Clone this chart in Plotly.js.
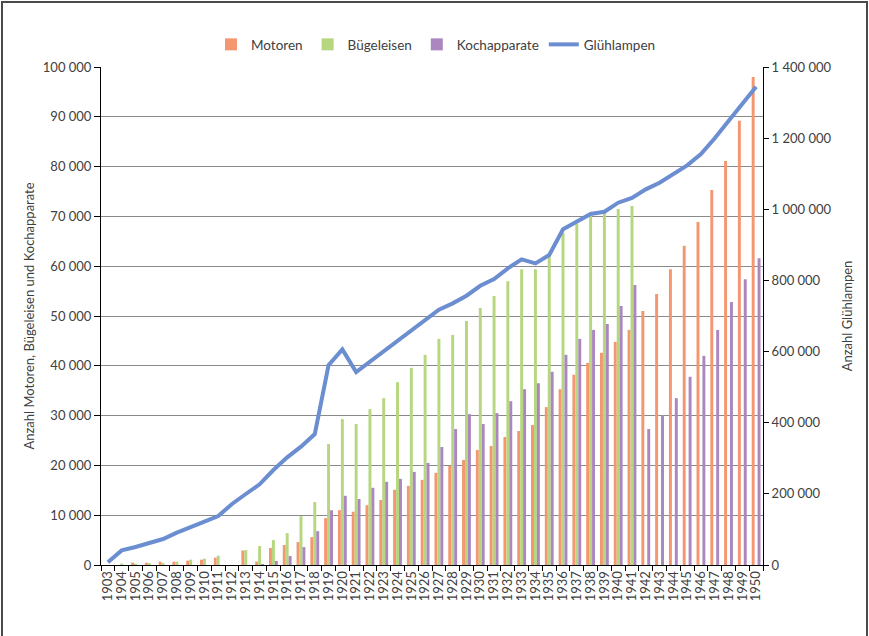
<!DOCTYPE html>
<html>
<head>
<meta charset="utf-8">
<script src="https://cdn.plot.ly/plotly-3.0.1.min.js"></script>
<style>
  html, body { margin: 0; padding: 0; background: #fff; overflow: hidden; }
  #frame { position: absolute; left: 1px; top: 1px; width: 863px; height: 760px; border: 2px solid #4a4a4a; }
  #chart { position: absolute; left: 0; top: 0; width: 869px; height: 636px; }
</style>
</head>
<body>
<div id="frame"></div>
<div id="chart"></div>
<script>
const years = ["1903","1904","1905","1906","1907","1908","1909","1910","1911","1912",
  "1913","1914","1915","1916","1917","1918","1919","1920","1921","1922",
  "1923","1924","1925","1926","1927","1928","1929","1930","1931","1932",
  "1933","1934","1935","1936","1937","1938","1939","1940","1941","1942",
  "1943","1944","1945","1946","1947","1948","1949","1950"];

const motoren = [null, null, 470, 470, 670, 670, 870, 1070, 1470, null,
  2900, 670, 3400, 4000, 4600, 5600, 9400, 11000, 10700, 12000,
  13050, 15100, 15900, 17100, 18500, 19900, 21100, 23100, 23900, 25700,
  26900, 28100, 31700, 35300, 38200, 40600, 42600, 44800, 47200, 51000,
  54400, 59400, 64100, 68900, 75300, 81100, 89200, 98000];

const buegeleisen = [null, 270, 270, 400, 400, 670, 1070, 1270, 1870, null,
  3000, 3800, 5000, 6400, 9800, 12650, 24300, 29300, 28300, 31300,
  33500, 36700, 39600, 42200, 45400, 46200, 49000, 51600, 54000, 57000,
  59400, 59400, 62200, 66700, 68500, 70100, 70700, 71500, 72100, null,
  null, null, null, null, null, null, null, null];

const kochapparate = [null, null, null, null, null, null, null, null, null, null,
  null, 200, 800, 1800, 3600, 6800, 11000, 13900, 13250, 15500,
  16700, 17300, 18700, 20500, 23700, 27300, 30300, 28300, 30500, 32900,
  35300, 36500, 38800, 42200, 45400, 47200, 48400, 52000, 56200, 27300,
  30100, 33500, 37800, 42000, 47200, 52800, 57400, 61600];

const gluehlampen = [7500, 41000, 50600, 61800, 73000, 90800, 107700, 121800, 137700, 171500,
  199600, 226800, 267000, 302700, 332600, 368000, 562000, 606000, 542600, 571500,
  600700, 629700, 658700, 688700, 717800, 735600, 757000, 785000, 804000, 834000,
  859000, 848000, 871500, 943700, 965000, 987000, 993000, 1018500, 1031700, 1056000,
  1074700, 1099000, 1123600, 1155400, 1199500, 1248000, 1295000, 1344600];

const FONT = 'Lato, "Open Sans", sans-serif';
const TXT = '#404040';

const traces = [
  { type: 'bar', name: 'Motoren', x: years, y: motoren, marker: { color: '#F4966F' } },
  { type: 'bar', name: 'Bügeleisen', x: years, y: buegeleisen, marker: { color: '#B6D680' } },
  { type: 'bar', name: 'Kochapparate', x: years, y: kochapparate, marker: { color: '#AB87C0' } },
  { type: 'scatter', mode: 'lines', name: 'Glühlampen', x: years, y: gluehlampen, yaxis: 'y2',
    line: { color: '#6B8ED0', width: 4 } }
];

const layout = {
  width: 869, height: 636,
  margin: { l: 101, r: 106, t: 67, b: 71, pad: 0 },
  paper_bgcolor: 'rgba(0,0,0,0)',
  plot_bgcolor: 'rgba(0,0,0,0)',
  separators: ', ',
  barmode: 'group',
  bargap: 0.36,
  bargroupgap: 0,
  font: { family: FONT, size: 13, color: TXT },
  showlegend: true,
  legend: {
    orientation: 'h', x: 0.506, xanchor: 'center', y: 1.045, yanchor: 'middle',
    font: { family: FONT, size: 13.5, color: TXT }, traceorder: 'normal'
  },
  xaxis: {
    type: 'category',
    tickmode: 'array', tickvals: years, ticktext: years,
    tickangle: -90,
    tickson: 'boundaries',
    ticks: 'outside', ticklen: 5, tickcolor: '#000',
    showline: true, linecolor: '#000', linewidth: 1,
    showgrid: false,
    tickfont: { family: FONT, size: 13, color: TXT }
  },
  yaxis: {
    range: [0, 100000], dtick: 10000, tickformat: ',d',
    ticks: 'outside', ticklen: 6, tickcolor: '#000',
    showline: true, linecolor: '#000', linewidth: 1,
    showgrid: true, gridcolor: '#8a8a8a', gridwidth: 1,
    zeroline: false,
    tickfont: { family: FONT, size: 13, color: TXT },
    title: { text: 'Anzahl Motoren, Bügeleisen und Kochapparate', font: { family: FONT, size: 13, color: TXT }, standoff: 5 }
  },
  yaxis2: {
    overlaying: 'y', side: 'right',
    range: [0, 1400000], dtick: 200000, tickformat: ',d',
    ticks: 'outside', ticklen: 5, tickcolor: '#000',
    showline: true, linecolor: '#000', linewidth: 1,
    showgrid: false, zeroline: false,
    tickfont: { family: FONT, size: 13, color: TXT },
    title: { text: 'Anzahl Glühlampen', font: { family: FONT, size: 13, color: TXT }, standoff: 12 }
  }
};

Plotly.newPlot('chart', traces, layout, { displayModeBar: false, staticPlot: true });
</script>
</body>
</html>
